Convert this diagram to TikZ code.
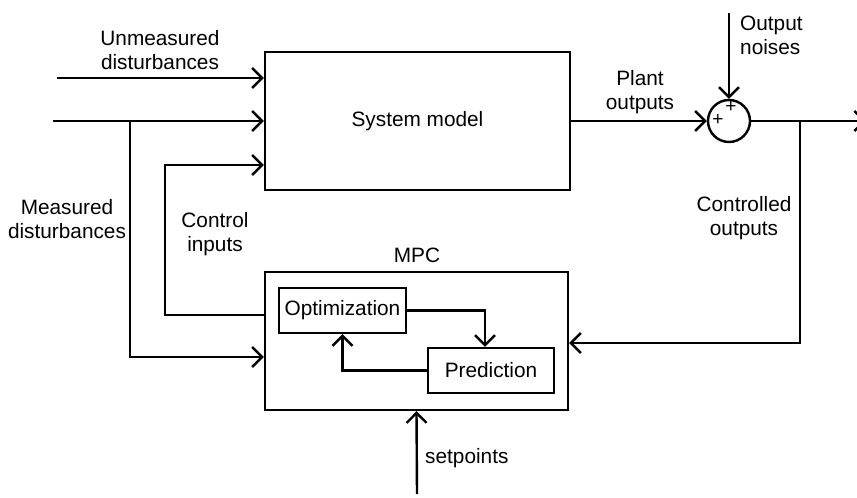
\documentclass[tikz,border=0pt]{standalone}
\usepackage{fontspec}
\setmainfont{Liberation Sans}
\usetikzlibrary{arrows.meta}
\begin{document}
\begin{tikzpicture}[x=1pt,y=-1pt,
  every node/.style={font=\fontsize{20.8}{24}\selectfont},
  arr/.style={line width=2.4pt, -{Straight Barb[length=10pt,width=20pt,line width=2.4pt]}},
  blk/.style={draw, line width=2.4pt, rectangle, inner sep=0pt},
  lbl/.style={align=center, inner sep=0pt}]
\useasboundingbox (0,0) rectangle (857,498);
% blocks
\node[blk, minimum width=305pt, minimum height=138pt] (sys) at (417.5,121) {System model};
\node[blk, minimum width=303pt, minimum height=138pt] (mpc) at (416.5,341) {};
\node[blk, minimum width=127pt, minimum height=45pt] (opt) at (342.5,310.5) {Optimization};
\node[blk, minimum width=126pt, minimum height=45pt] (pred) at (491,370.5) {Prediction};
\node[draw, circle, line width=2.4pt, minimum size=42pt, inner sep=0pt] (sum) at (729,121) {};
\node[inner sep=0pt, font=\fontsize{19}{19}\selectfont] (p1) at (731,107) {+};
\node[inner sep=0pt, font=\fontsize{19}{19}\selectfont] (p2) at (718,120) {+};
% coordinates
\coordinate (u0) at (57,78);
\coordinate (m0) at (53,121);
\coordinate (mb) at (130,121);
\coordinate (ci) at (165,165);
\coordinate (n0) at (729,13);
\coordinate (out) at (866,121);
\coordinate (cb) at (800,121);
\coordinate (s0) at (417,494);
% connectors
\draw[arr] (u0) -- (u0 -| sys.west);
\draw[arr] (m0) -- (sys.west);
\draw[arr] (mb) |- ([yshift=-16pt]mpc.west);
\draw[arr] ([yshift=26pt]mpc.west) -| (ci) -- (ci -| sys.west);
\draw[arr] (sys.east) -- (sum.west);
\draw[arr] (n0) -- (sum.north);
\draw[arr] (sum.east) -- (out);
\draw[arr] (cb) |- ([yshift=-2pt]mpc.east);
\draw[arr] (s0) -- (mpc.south);
\draw[arr] (opt.east) -| ([xshift=-6pt]pred.north);
\draw[arr] (pred.west) -| (opt.south);
% labels
\node[lbl] (lu) at (160,50) {Unmeasured\\disturbances};
\node[lbl] (lp) at (640,92) {Plant\\outputs};
\node[lbl, align=left, anchor=west] (ln) at (740,35) {Output\\noises};
\node[lbl] (lm) at (67,219) {Measured\\disturbances};
\node[lbl] (lc) at (215,234) {Control\\inputs};
\node[lbl] (lo) at (744,218) {Controlled\\outputs};
\node[lbl] (lmpc) at (417,255) {MPC};
\node[lbl, anchor=west] (ls) at (425,458) {setpoints};
\end{tikzpicture}
\end{document}
